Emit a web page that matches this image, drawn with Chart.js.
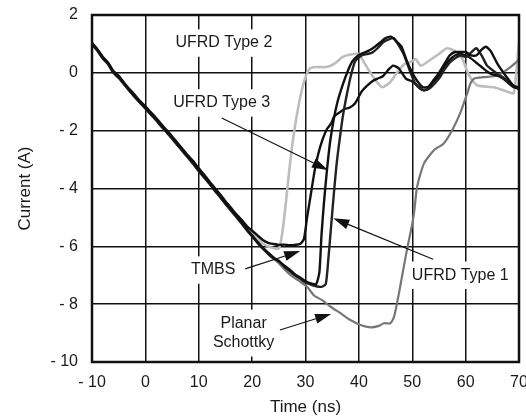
<!DOCTYPE html>
<html>
<head>
<meta charset="utf-8">
<script src="https://cdn.jsdelivr.net/npm/chart.js@4.4.0/dist/chart.umd.min.js"></script>
<style>
  html, body { margin: 0; padding: 0; background: #fff; }
</style>
</head>
<body>
<canvas id="recoveryChart" width="526" height="419"></canvas>
<script>
Chart.defaults.font.family = '"Liberation Sans", Arial, sans-serif';
Chart.defaults.color = '#1a1a1a';

// time (ns) of the shared linear fall, then each trace's own recovery
const fallTime = [-10, -9, -8, -7, -6, -5, -4, -3, -2, -1, 0, 1, 2, 3, 4, 5, 6, 7, 8, 9,
  10, 11, 12, 13, 14, 15, 16, 17, 18, 19, 20, 21, 22, 23, 24];

const ufrd3Time = fallTime.concat([25, 26, 27, 28, 29, 30, 31, 32, 32.6, 33, 33.5, 34, 34.6, 35.3, 36, 37, 38,
  38.8, 40, 41, 42, 43, 44, 45, 46, 47, 48, 49, 50, 51, 52, 53, 54, 55, 56, 57, 58, 59, 60, 61, 62, 63,
  63.8, 64.7, 66, 67.5, 69, 70]);
const ufrd3Current = [1.02, 0.8, 0.54, 0.32, 0.04, -0.14, -0.36, -0.6, -0.8, -1.0, -1.2, -1.4, -1.6, -1.82,
  -2.04, -2.22, -2.46, -2.68, -2.9, -3.1, -3.36, -3.58, -3.8, -4.04, -4.26, -4.5, -4.7, -4.94, -5.16, -5.4,
  -5.62, -5.84, -6.04, -6.22, -6.38,
  -6.52, -6.66, -6.8, -6.96, -7.08, -7.2, -7.28, -7.3, -6.9, -5.6, -4.4, -3.4, -2.4, -1.6, -1.0, -0.4, 0.1,
  0.4, 0.62, 0.7, 0.78, 0.9, 1.05, 1.2, 1.25, 1.1, 0.9, 0.4, 0.0, -0.3, -0.5, -0.48, -0.25, 0.0, 0.3, 0.6,
  0.72, 0.72, 0.72, 0.6, 0.6, 0.8, 0.9, 0.75, 0.3, -0.1, -0.45, -0.55];

const ufrd1Time = fallTime.concat([25, 26, 27, 28, 29, 30, 31, 32, 33, 33.8, 34.3, 34.8, 35.3, 35.8, 36.4,
  37, 37.8, 38.5, 39.3, 40.5, 41.5, 42.5, 43.5, 44.5, 45.5, 46.5, 47.3, 48.5, 49.5, 50.5, 51.5, 52.5, 53.5,
  55, 56, 57, 58, 59, 60, 61, 62, 63, 64, 65, 66, 67, 68, 69, 70]);
const ufrd1Current = [0.98, 0.76, 0.5, 0.3, 0.0, -0.18, -0.4, -0.62, -0.84, -1.04, -1.24, -1.44, -1.64, -1.86,
  -2.06, -2.28, -2.5, -2.72, -2.94, -3.16, -3.4, -3.62, -3.84, -4.08, -4.3, -4.54, -4.76, -4.98, -5.2, -5.44,
  -5.66, -5.88, -6.08, -6.26, -6.42,
  -6.5, -6.7, -6.85, -7.0, -7.12, -7.25, -7.32, -7.38, -7.4, -7.3, -6.4, -5.3, -4.2, -3.2, -2.3,
  -1.5, -0.7, -0.1, 0.4, 0.6, 0.65, 0.7, 0.85, 1.05, 1.15, 1.2, 1.0, 0.6, 0.1, -0.35, -0.55, -0.6, -0.5,
  -0.2, 0.1, 0.35, 0.5, 0.6, 0.55, 0.7, 0.85, 0.6, 0.25, 0.1, -0.05, -0.15, -0.3, -0.45, -0.5];

const tmbsTime = fallTime.concat([25, 26, 27, 28, 29, 29.7, 30.3, 31, 31.7, 32.4, 33.2, 34, 34.8, 35.4, 36.3,
  37.3, 38.3, 39.3, 40.5, 41.5, 42.6, 43.5, 44.5, 45.5, 46.4, 47.5, 48.8, 50, 51, 52, 53, 54, 55, 56, 57,
  58, 59, 60, 61, 62, 63, 64, 65, 66, 67, 68, 69, 70]);
const tmbsCurrent = [1.04, 0.82, 0.56, 0.36, 0.06, -0.1, -0.34, -0.56, -0.76, -0.98, -1.16, -1.36, -1.56,
  -1.78, -1.98, -2.2, -2.42, -2.64, -2.86, -3.06, -3.3, -3.52, -3.76, -3.98, -4.2, -4.44, -4.66, -4.88, -5.08,
  -5.3, -5.46, -5.62, -5.78, -5.88, -5.92,
  -5.95, -5.94, -5.96, -5.95, -5.92, -5.75, -5.0, -4.2, -3.4, -2.8, -2.3, -1.95, -1.75, -1.5, -1.38,
  -1.25, -1.2, -1.05, -0.65, -0.45, -0.28, -0.2, -0.12, 0.1, 0.25, 0.15, -0.2, -0.3, -0.45, -0.6, -0.55,
  -0.3, -0.1, 0.2, 0.45, 0.6, 0.65, 0.6, 0.5, 0.35, 0.2, 0.05, -0.05, -0.1, -0.2, -0.35, -0.5, -0.55];

const ufrd2Time = fallTime.concat([25, 25.6, 26.2, 27, 27.9, 28.9, 29.8, 30.8, 32, 34, 35.3, 36.9, 38, 40,
  40.6, 41.9, 43.4, 44.4, 45.9, 47.2, 48.5, 50, 50.6, 51.6, 53, 55, 56.5, 58, 59.4, 60.3, 61, 62.2, 65.3,
  67.8, 69, 69.7, 70]);
const ufrd2Current = [1.0, 0.78, 0.52, 0.34, 0.04, -0.14, -0.38, -0.6, -0.8, -1.02, -1.2, -1.42, -1.6, -1.82,
  -2.02, -2.26, -2.46, -2.68, -2.9, -3.1, -3.34, -3.56, -3.78, -4.0, -4.24, -4.46, -4.68, -4.9, -5.1, -5.34,
  -5.56, -5.74, -5.9, -6.0, -6.06,
  -6.08, -5.6, -4.7, -3.3, -2.0, -0.95, -0.26, 0.15, 0.2, 0.2, 0.3, 0.54, 0.62, 0.65,
  0.48, 0.08, -0.32, -0.5, -0.32, 0.02, 0.3, 0.4, 0.48, 0.25, 0.4, 0.65, 0.85, 0.75, 0.48, 0.05, -0.2, -0.44,
  -0.5, -0.65, -0.7, 0.45, 1.05];

const planarTime = fallTime.concat([25, 26, 27, 28, 29, 30.3, 31.6, 33.1, 34.7, 36.6, 38.4, 40.3, 42.2,
  43.75, 44.7, 45.9, 46.6, 47.5, 48.4, 49.1, 50, 50.4, 50.9, 52.2, 54.1, 55.9, 57.5, 59.1, 60.3, 60.9, 61.6,
  63.4, 66, 68.4, 70]);
const planarCurrent = [1.0, 0.8, 0.52, 0.3, 0.02, -0.16, -0.38, -0.62, -0.82, -1.02, -1.22, -1.42, -1.62,
  -1.84, -2.04, -2.26, -2.48, -2.7, -2.92, -3.14, -3.38, -3.6, -3.82, -4.06, -4.28, -4.52, -4.74, -4.96,
  -5.18, -5.42, -5.64, -5.86, -6.06, -6.26, -6.42,
  -6.58, -6.78, -6.96, -7.1, -7.22, -7.4, -7.7, -7.86, -8.09, -8.32, -8.55, -8.72, -8.8,
  -8.75, -8.66, -8.66, -8.43, -7.63, -6.72, -6.03, -5.23, -4.75, -3.95, -3.13, -2.67, -2.44, -1.98, -1.34,
  -0.71, -0.37, -0.2, -0.15, -0.09, 0.2, 0.45];

const timeTicks = [-10, 70, 10];
const currentTicks = [-10, 2, 2];

// callouts, placed in data units
const notes = [
  { text: ['UFRD Type 2'], at: [14.7, 1.03] },
  { text: ['UFRD Type 3'], at: [14.3, -1.04], from: [14.3, -1.56], to: [34.2, -3.36] },
  { text: ['TMBS'], at: [12.7, -6.82], from: [18.7, -6.78], to: [29.0, -6.16] },
  { text: ['Planar', 'Schottky'], at: [18.4, -9.0], from: [25.2, -8.89], to: [34.8, -8.34] },
  { text: ['UFRD Type 1'], at: [59.0, -7.0], from: [53.9, -6.45], to: [35.2, -5.03] }
];

function pairs(t, c) {
  return t.map((v, k) => ({ x: v, y: c[k] }));
}

function dashed(v) {
  return v < 0 ? '- ' + Math.abs(v) : String(v);
}

function trace(label, t, c, color, width) {
  return {
    label: label,
    data: pairs(t, c),
    borderColor: color,
    borderWidth: width,
    pointRadius: 0,
    tension: 0.2,
    fill: false
  };
}

const frame = {
  id: 'frame',
  afterDraw(chart) {
    const ctx = chart.ctx, a = chart.chartArea;
    ctx.save();
    ctx.strokeStyle = '#111';
    ctx.lineWidth = 2.5;
    ctx.strokeRect(a.left, a.top, a.right - a.left, a.bottom - a.top);
    ctx.restore();
  }
};

const callouts = {
  id: 'callouts',
  afterDatasetsDraw(chart) {
    const ctx = chart.ctx, xs = chart.scales.x, ys = chart.scales.y;
    const lineGap = 19.4;
    ctx.save();
    ctx.font = '16px "Liberation Sans", Arial, sans-serif';
    notes.forEach(n => {
      const cx = xs.getPixelForValue(n.at[0]);
      const cy = ys.getPixelForValue(n.at[1]);
      const w = Math.max(...n.text.map(s => ctx.measureText(s).width));
      const h = n.text.length * lineGap;
      ctx.fillStyle = '#fff';
      ctx.fillRect(cx - w / 2 - 4, cy - h / 2 - 4, w + 8, h + 8);
      ctx.fillStyle = '#1a1a1a';
      ctx.textAlign = 'center';
      ctx.textBaseline = 'middle';
      n.text.forEach((s, k) => {
        ctx.fillText(s, cx, cy - h / 2 + lineGap * (k + 0.5));
      });
      if (n.from) {
        const x0 = xs.getPixelForValue(n.from[0]), y0 = ys.getPixelForValue(n.from[1]);
        const x1 = xs.getPixelForValue(n.to[0]), y1 = ys.getPixelForValue(n.to[1]);
        const ang = Math.atan2(y1 - y0, x1 - x0);
        const len = 16, half = 5;
        const bx = x1 - len * Math.cos(ang), by = y1 - len * Math.sin(ang);
        ctx.strokeStyle = '#111';
        ctx.lineWidth = 1.1;
        ctx.beginPath();
        ctx.moveTo(x0, y0);
        ctx.lineTo(bx, by);
        ctx.stroke();
        ctx.fillStyle = '#111';
        ctx.beginPath();
        ctx.moveTo(x1, y1);
        ctx.lineTo(bx + half * Math.sin(ang), by - half * Math.cos(ang));
        ctx.lineTo(bx - half * Math.sin(ang), by + half * Math.cos(ang));
        ctx.closePath();
        ctx.fill();
      }
    });
    ctx.restore();
  }
};

const data = {
  datasets: [
    trace('UFRD Type 3', ufrd3Time, ufrd3Current, '#111', 2.4),
    trace('UFRD Type 1', ufrd1Time, ufrd1Current, '#222', 2.4),
    trace('TMBS', tmbsTime, tmbsCurrent, '#111', 2.4),
    trace('Planar Schottky', planarTime, planarCurrent, '#777', 2.2),
    trace('UFRD Type 2', ufrd2Time, ufrd2Current, '#bdbdbd', 2.6)
  ]
};

const config = {
  type: 'line',
  data: data,
  options: {
    responsive: false,
    animation: false,
    layout: { padding: { left: 0, top: 15, right: 7, bottom: 0 } },
    plugins: {
      legend: { display: false },
      tooltip: { enabled: false }
    },
    scales: {
      x: {
        type: 'linear',
        min: timeTicks[0],
        max: timeTicks[1],
        ticks: { stepSize: timeTicks[2], padding: 11, font: { size: 16 }, callback: dashed, maxRotation: 0 },
        grid: { color: '#111', lineWidth: 1.5, drawTicks: false },
        border: { display: false },
        title: { display: true, text: 'Time (ns)', font: { size: 17 }, padding: { top: 0, bottom: 1 } },
        afterFit: s => { s.height = 57; s.paddingLeft = 0; s.paddingRight = 0; }
      },
      y: {
        min: currentTicks[0],
        max: currentTicks[1],
        ticks: { stepSize: currentTicks[2], padding: 14, font: { size: 16 }, callback: dashed },
        grid: { color: '#111', lineWidth: 1.5, drawTicks: false },
        border: { display: false },
        title: { display: true, text: 'Current (A)', font: { size: 17 }, padding: { top: 15, bottom: 0 } },
        afterFit: s => { s.width = 92; s.paddingTop = 0; s.paddingBottom = 0; }
      }
    }
  },
  plugins: [callouts, frame]
};

const recoveryChart = new Chart(document.getElementById('recoveryChart'), config);
</script>
</body>
</html>
